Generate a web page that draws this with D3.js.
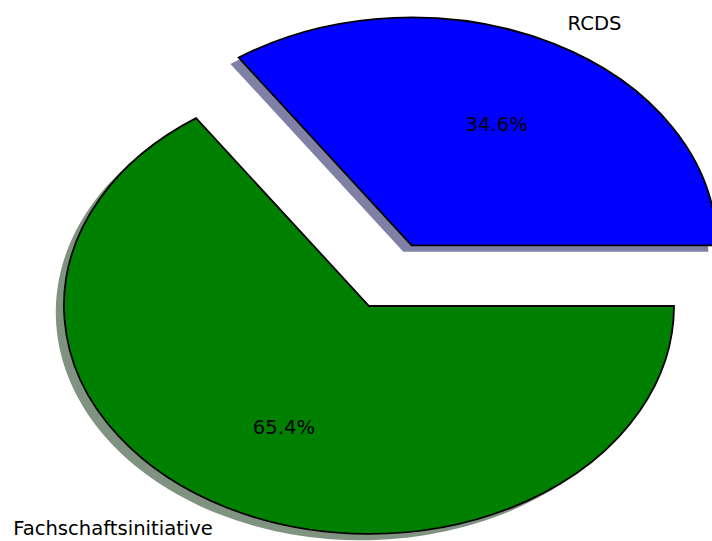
<!DOCTYPE html>
<html>
<head>
<meta charset="utf-8">
<script src="https://cdn.jsdelivr.net/npm/d3@7"></script>
<style>
  body { margin: 0; background: #fff; }
  text { font-family: "DejaVu Sans", sans-serif; }
</style>
</head>
<body>
<svg id="chart" width="712" height="541"></svg>
<script>
// Slices, in drawing order (counter-clockwise from 3 o'clock)
const labels = ["RCDS", "Fachschaftsinitiative"];
const values = [34.6, 65.4];
const colors = ["#0000ff", "#008000"];
const shadowColors = ["#8080a6", "#809380"];
const explode = [0.3, 0];

// Pie geometry in pixels (axes are not equal, so the pie is an ellipse)
const cx = 369, cy = 306, rx = 305, ry = 228;

// Data units -> pixels
const x = d3.scaleLinear().domain([-1, 1]).range([cx - rx, cx + rx]);
const y = d3.scaleLinear().domain([-1, 1]).range([cy + ry, cy - ry]);

const svg = d3.select("#chart");

// d3.pie goes clockwise from 12 o'clock, so reverse the order and start at 3 o'clock
const order = [1, 0];
const pie = d3.pie().sort(null).value(function(i) { return values[i]; })
  .startAngle(Math.PI / 2).endAngle(Math.PI / 2 + 2 * Math.PI);
const arcs = pie(order);

const arc = d3.arc().innerRadius(0).outerRadius(1);

function mid(d) { return (d.startAngle + d.endAngle) / 2; }
// offset of a slice centre in data units
function offX(d) { return explode[d.data] * Math.sin(mid(d)); }
function offY(d) { return explode[d.data] * Math.cos(mid(d)); }

function wedgeTransform(d, sx, sy) {
  const px = x(offX(d) + sx), py = y(offY(d) + sy);
  return "translate(" + px + "," + py + ") scale(" + rx + "," + ry + ")";
}

// shadows behind all wedges
svg.append("g").selectAll("path")
  .data(arcs)
  .enter()
  .append("path")
  .attr("d", arc)
  .attr("transform", function(d) { return wedgeTransform(d, -0.027, -0.028); })
  .attr("fill", function(d) { return shadowColors[d.data]; });

// wedges
svg.append("g").selectAll("path")
  .data(arcs)
  .enter()
  .append("path")
  .attr("d", arc)
  .attr("transform", function(d) { return wedgeTransform(d, 0, 0); })
  .attr("fill", function(d) { return colors[d.data]; })
  .attr("stroke", "black")
  .attr("stroke-width", 1.8)
  .attr("stroke-linejoin", "miter")
  .attr("vector-effect", "non-scaling-stroke");

// outer labels at 1.1 radius
svg.append("g").selectAll("text")
  .data(arcs)
  .enter()
  .append("text")
  .attr("x", function(d) { return x(offX(d) + 1.1 * Math.sin(mid(d))); })
  .attr("y", function(d) { return y(offY(d) + 1.1 * Math.cos(mid(d))); })
  .attr("dy", "0.36em")
  .attr("text-anchor", function(d) { return Math.sin(mid(d)) > 0 ? "start" : "end"; })
  .attr("font-size", 19.6)
  .attr("fill", "#000")
  .text(function(d) { return labels[d.data]; });

// percentages at 0.6 radius
svg.append("g").selectAll("text")
  .data(arcs)
  .enter()
  .append("text")
  .attr("x", function(d) { return x(offX(d) + 0.6 * Math.sin(mid(d))); })
  .attr("y", function(d) { return y(offY(d) + 0.6 * Math.cos(mid(d))); })
  .attr("dy", "0.36em")
  .attr("text-anchor", "middle")
  .attr("font-size", 19.6)
  .attr("fill", "#000")
  .text(function(d) { return values[d.data].toFixed(1) + "%"; });
</script>
</body>
</html>
